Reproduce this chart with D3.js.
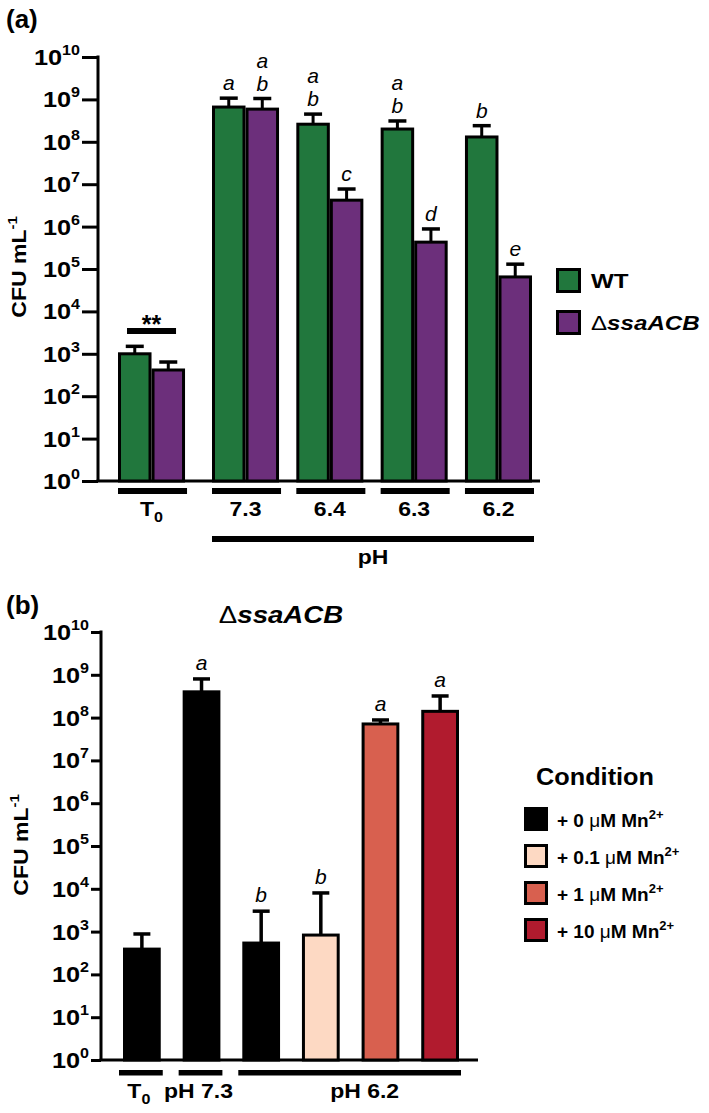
<!DOCTYPE html>
<html><head><meta charset="utf-8">
<script src="https://cdn.jsdelivr.net/npm/d3@7"></script>
<style>body{margin:0;background:#fff}svg{display:block}</style>
</head><body>
<svg id="c" width="709" height="1113"></svg>
<script>
// ---------- Panel (a) data ----------
const groupsA = ["T0", "7.3", "6.4", "6.3", "6.2"];
const seriesA = ["WT", "ssaACB"];
const wtMean  = [1000, 6.6e8, 2.6e8, 2.0e8, 1.3e8];
const wtUpper = [1500, 1.07e9, 4.5e8, 3.1e8, 2.4e8];
const ssaMean  = [415, 5.9e8, 4.2e6, 4.3e5, 6.5e4];
const ssaUpper = [640, 1.05e9, 7.7e6, 8.8e5, 1.3e5];
const wtLetters  = [[], ["a"], ["a", "b"], ["a", "b"], ["b"]];
const ssaLetters = [[], ["a", "b"], ["c"], ["d"], ["e"]];
const tickExps = [0, 1, 2, 3, 4, 5, 6, 7, 8, 9, 10];

// ---------- Panel (b) data ----------
const barsB    = ["T0", "pH 7.3", "pH 6.2 +0", "pH 6.2 +0.1", "pH 6.2 +1", "pH 6.2 +10"];
const meanB    = [390, 4.0e8, 540, 830, 7.1e7, 1.4e8];
const upperB   = [880, 8.0e8, 3.0e3, 8.0e3, 8.8e7, 3.2e8];
const lettersB = ["", "a", "b", "b", "a", "a"];
const condOfBar = [0, 0, 0, 1, 2, 3];
const conditions = ["0", "0.1", "1", "10"];
const groupLabelsB = ["T0", "pH 7.3", "pH 6.2"];
const groupMembersB = [[0], [1], [2, 3, 4, 5]];

const colA = {WT: "#21773d", ssaACB: "#6c2f7b"};
const colB = ["#000000", "#fdd9c3", "#d8604f", "#b11b2e"];

const FONT = "'Liberation Sans', Arial, Helvetica, sans-serif";
const SX = 1.15;
const svg = d3.select("#c").style("font-family", FONT);
svg.append("rect").attr("width", 709).attr("height", 1113).attr("fill", "#fff");

function stext(parent, x, y, sx, rot) {
  const g = parent.append("g").attr("transform",
    `translate(${x},${y})` + (rot ? ` rotate(${rot})` : "") + ` scale(${sx},1)`);
  return g.append("text").attr("x", 0).attr("y", 0);
}
function powLabel(parent, x, y, e, base, sup, supDy) {
  const t = stext(parent, x, y, SX).attr("text-anchor", "end").attr("font-weight", "bold");
  t.append("tspan").attr("font-size", base).text("10");
  t.append("tspan").attr("font-size", sup).attr("dy", supDy).text(e);
}

// ================= Panel (a) =================
const A = {axisX: 98, top: 57, bottom: 481, right: 540};
const yA = d3.scaleLog().domain([1, 1e10]).range([A.bottom, A.top]);
const xA = d3.scaleBand().domain(groupsA.slice(1)).range([212, 532]).paddingInner(0.205);
const t0Gap = 94;
const groupLeftA = g => g === "T0" ? xA(groupsA[1]) - t0Gap : xA(g);
const bwA = xA.bandwidth() / 2;

const gA = svg.append("g");
const axA = d3.axisLeft(yA).tickValues(tickExps.map(e => Math.pow(10, e)))
  .tickSize(16).tickSizeOuter(0).tickFormat("");
const axAg = gA.append("g").attr("transform", `translate(${A.axisX},0)`).call(axA);
axAg.selectAll("path,line").attr("stroke", "#000").attr("stroke-width", 3);
axAg.select("path.domain").attr("d", `M0,${A.top - 1.5}V${A.bottom}`);
tickExps.forEach(e => powLabel(gA, 80, yA(Math.pow(10, e)) + 8, e, 22, 14, -10));
gA.append("line").attr("x1", A.axisX - 1.5).attr("x2", A.right)
  .attr("y1", A.bottom).attr("y2", A.bottom).attr("stroke", "#000").attr("stroke-width", 3);

const dataA = [];
groupsA.forEach((g, i) => {
  dataA.push({g, s: "WT", k: 0, mean: wtMean[i], up: wtUpper[i], letters: wtLetters[i]});
  dataA.push({g, s: "ssaACB", k: 1, mean: ssaMean[i], up: ssaUpper[i], letters: ssaLetters[i]});
});
dataA.forEach(d => {
  const x = groupLeftA(d.g) + d.k * bwA;
  const cx = x + bwA / 2;
  gA.append("line").attr("x1", cx).attr("x2", cx).attr("y1", yA(d.mean)).attr("y2", yA(d.up))
    .attr("stroke", "#000").attr("stroke-width", 3);
  gA.append("line").attr("x1", cx - 9).attr("x2", cx + 9).attr("y1", yA(d.up)).attr("y2", yA(d.up))
    .attr("stroke", "#000").attr("stroke-width", 3.5);
  gA.append("rect").attr("x", x + 1.5).attr("y", yA(d.mean)).attr("width", bwA - 3)
    .attr("height", yA(1) - yA(d.mean)).attr("fill", colA[d.s])
    .attr("stroke", "#000").attr("stroke-width", 3);
  const n = d.letters.length;
  d.letters.forEach((L, j) => {
    gA.append("text").attr("x", cx).attr("y", yA(d.up) - 8 - (n - 1 - j) * 23)
      .attr("text-anchor", "middle").attr("font-style", "italic").attr("font-size", 21).text(L);
  });
});
{
  const l = groupLeftA("T0");
  gA.append("rect").attr("x", l + 9).attr("y", 328).attr("width", 2 * bwA - 18).attr("height", 6).attr("fill", "#000");
  gA.append("text").attr("x", l + bwA).attr("y", 333).attr("text-anchor", "middle")
    .attr("font-weight", "bold").attr("font-size", 25).text("**");
}
groupsA.forEach(g => {
  const l = groupLeftA(g);
  gA.append("rect").attr("x", l).attr("y", 488).attr("width", 2 * bwA + 2).attr("height", 6).attr("fill", "#000");
  const t = stext(gA, l + bwA, 516, SX).attr("text-anchor", "middle").attr("font-weight", "bold").attr("font-size", 20);
  if (g === "T0") {
    t.append("tspan").text("T");
    t.append("tspan").attr("font-size", 14).attr("dy", 6).text("0");
  } else t.text(g);
});
{
  const l = groupLeftA(groupsA[1]), r = groupLeftA(groupsA[4]) + 2 * bwA + 2;
  gA.append("rect").attr("x", l).attr("y", 536).attr("width", r - l).attr("height", 6).attr("fill", "#000");
  stext(gA, (l + r) / 2, 564, SX).attr("text-anchor", "middle").attr("font-weight", "bold").attr("font-size", 20).text("pH");
}
{
  const t = stext(gA, 26, 267, SX, -90).attr("text-anchor", "middle").attr("font-weight", "bold").attr("font-size", 20);
  t.append("tspan").text("CFU mL");
  t.append("tspan").attr("font-size", 13).attr("dy", -9).text("-1");
}
gA.append("text").attr("x", 6).attr("y", 28).attr("font-weight", "bold").attr("font-size", 26).text("(a)");
seriesA.forEach((s, i) => {
  const y = 268 + i * 42;
  gA.append("rect").attr("x", 557.5).attr("y", y + 1.5).attr("width", 22).attr("height", 22)
    .attr("fill", colA[s]).attr("stroke", "#000").attr("stroke-width", 3);
  const t = stext(gA, 591, y + 20, SX).attr("font-weight", "bold").attr("font-size", 21);
  if (s === "WT") t.text("WT");
  else {
    t.append("tspan").attr("font-weight", "normal").text("Δ");
    t.append("tspan").attr("font-style", "italic").text(s);
  }
});

// ================= Panel (b) =================
const B = {axisX: 101, top: 632, bottom: 1060, right: 478};
const yB = d3.scaleLog().domain([1, 1e10]).range([B.bottom, B.top]);
const xB = d3.scaleBand().domain(barsB).range([123, 459]).paddingInner(0.367);
const gB = svg.append("g");
const axB = d3.axisLeft(yB).tickValues(tickExps.map(e => Math.pow(10, e)))
  .tickSize(10).tickSizeOuter(0).tickFormat("");
const axBg = gB.append("g").attr("transform", `translate(${B.axisX},0)`).call(axB);
axBg.selectAll("path,line").attr("stroke", "#000").attr("stroke-width", 3);
axBg.select("path.domain").attr("d", `M0,${B.top - 1.5}V${B.bottom}`);
tickExps.forEach(e => powLabel(gB, 89, yB(Math.pow(10, e)) + 8, e, 22, 14, -10));
gB.append("line").attr("x1", B.axisX - 1.5).attr("x2", B.right)
  .attr("y1", B.bottom).attr("y2", B.bottom).attr("stroke", "#000").attr("stroke-width", 3);

barsB.forEach((b, i) => {
  const x = xB(b), w = xB.bandwidth(), cx = x + w / 2;
  gB.append("line").attr("x1", cx).attr("x2", cx).attr("y1", yB(meanB[i])).attr("y2", yB(upperB[i]))
    .attr("stroke", "#000").attr("stroke-width", 3.5);
  gB.append("line").attr("x1", cx - 8.5).attr("x2", cx + 8.5).attr("y1", yB(upperB[i])).attr("y2", yB(upperB[i]))
    .attr("stroke", "#000").attr("stroke-width", 3.5);
  gB.append("rect").attr("x", x + 1.5).attr("y", yB(meanB[i])).attr("width", w - 3)
    .attr("height", yB(1) - yB(meanB[i])).attr("fill", colB[condOfBar[i]])
    .attr("stroke", "#000").attr("stroke-width", 3);
  if (lettersB[i]) gB.append("text").attr("x", cx).attr("y", yB(upperB[i]) - 9)
    .attr("text-anchor", "middle").attr("font-style", "italic").attr("font-size", 21).text(lettersB[i]);
});
groupLabelsB.forEach((lab, k) => {
  const mem = groupMembersB[k];
  const l = xB(barsB[mem[0]]) - 4, r = xB(barsB[mem[mem.length - 1]]) + xB.bandwidth() + 2;
  gB.append("rect").attr("x", l).attr("y", 1070).attr("width", r - l).attr("height", 5.5).attr("fill", "#000");
  const cx = (l + r) / 2 + (mem.length > 1 ? 15 : -2);
  const t = stext(gB, cx, 1098, SX).attr("text-anchor", "middle").attr("font-weight", "bold").attr("font-size", 20);
  if (lab === "T0") {
    t.append("tspan").text("T");
    t.append("tspan").attr("font-size", 14).attr("dy", 6).text("0");
  } else t.text(lab);
});
{
  const t = stext(gB, 28, 845, SX, -90).attr("text-anchor", "middle").attr("font-weight", "bold").attr("font-size", 20);
  t.append("tspan").text("CFU mL");
  t.append("tspan").attr("font-size", 13).attr("dy", -9).text("-1");
}
gB.append("text").attr("x", 6).attr("y", 614).attr("font-weight", "bold").attr("font-size", 26).text("(b)");
{
  const t = stext(gB, 281, 623, SX).attr("text-anchor", "middle").attr("font-weight", "bold").attr("font-size", 24);
  t.append("tspan").attr("font-weight", "normal").text("Δ");
  t.append("tspan").attr("font-style", "italic").text("ssaACB");
}
stext(gB, 595, 785, 1.1).attr("text-anchor", "middle").attr("font-weight", "bold").attr("font-size", 23).text("Condition");
conditions.forEach((c, i) => {
  const y = 807 + i * 37;
  gB.append("rect").attr("x", 525.5).attr("y", y + 1.5).attr("width", 21).attr("height", 21)
    .attr("fill", colB[i]).attr("stroke", "#000").attr("stroke-width", 3);
  const t = gB.append("text").attr("x", 557).attr("y", y + 20).attr("font-weight", "bold").attr("font-size", 19);
  t.append("tspan").text(`+ ${c} `);
  t.append("tspan").attr("font-weight", "normal").text("μ");
  t.append("tspan").text("M Mn");
  t.append("tspan").attr("font-size", 13).attr("dy", -8).text("2+");
});
</script>
</body></html>
